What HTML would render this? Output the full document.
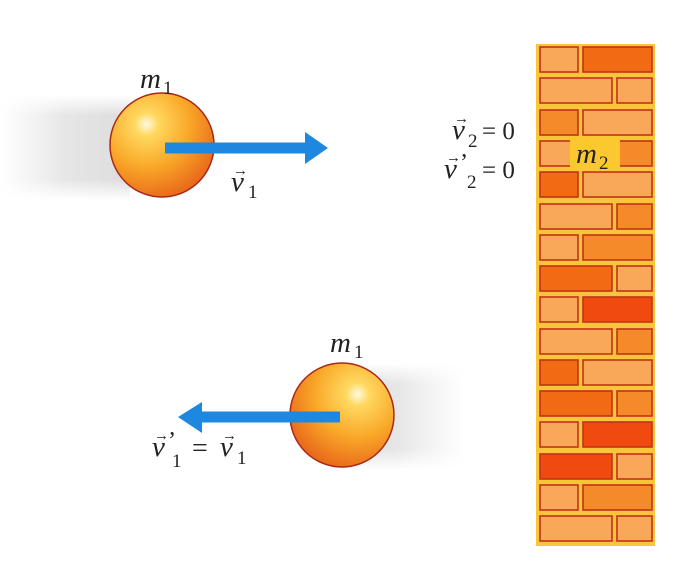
<!DOCTYPE html>
<html><head><meta charset="utf-8"><style>
html,body{margin:0;padding:0;background:#fff;}
svg{display:block}
text{font-family:"Liberation Serif",serif;fill:#222;}
</style></head><body>
<svg width="687" height="566" viewBox="0 0 687 566" xmlns="http://www.w3.org/2000/svg">
<defs>
<linearGradient id="tr1" x1="0" x2="1" y1="0" y2="0">
<stop offset="0" stop-color="#e4e4e4" stop-opacity="0"/>
<stop offset="0.5" stop-color="#e0e0e0" stop-opacity="0.8"/>
<stop offset="1" stop-color="#dcdcdc" stop-opacity="1"/>
</linearGradient>
<linearGradient id="tr2" x1="1" x2="0" y1="0" y2="0">
<stop offset="0" stop-color="#e4e4e4" stop-opacity="0"/>
<stop offset="0.5" stop-color="#e0e0e0" stop-opacity="0.8"/>
<stop offset="1" stop-color="#dcdcdc" stop-opacity="1"/>
</linearGradient>
<linearGradient id="vf" x1="0" x2="0" y1="0" y2="1">
<stop offset="0" stop-color="#fff" stop-opacity="1"/>
<stop offset="0.2" stop-color="#fff" stop-opacity="0"/>
<stop offset="0.8" stop-color="#fff" stop-opacity="0"/>
<stop offset="1" stop-color="#fff" stop-opacity="1"/>
</linearGradient>
<radialGradient id="ball" cx="0.35" cy="0.3" r="0.75">
<stop offset="0" stop-color="#fffbe0"/>
<stop offset="0.15" stop-color="#ffd860"/>
<stop offset="0.55" stop-color="#f9a828"/>
<stop offset="1" stop-color="#e8661a"/>
</radialGradient>
<radialGradient id="ball2" cx="0.65" cy="0.3" r="0.75">
<stop offset="0" stop-color="#fffbe0"/>
<stop offset="0.15" stop-color="#ffd860"/>
<stop offset="0.55" stop-color="#f9a828"/>
<stop offset="1" stop-color="#e8661a"/>
</radialGradient>
</defs>

<rect x="0" y="95" width="130" height="105" fill="url(#tr1)"/>
<rect x="0" y="95" width="130" height="105" fill="url(#vf)"/>
<rect x="330" y="363" width="135" height="107" fill="url(#tr2)"/>
<rect x="330" y="363" width="135" height="107" fill="url(#vf)"/>

<circle cx="162" cy="145" r="52" fill="url(#ball)" stroke="#a8281a" stroke-width="1.5"/>
<rect x="165" y="142.5" width="142" height="11" fill="#1e88e0"/>
<polygon points="305,132 328,148 305,164" fill="#1e88e0"/>
<text x="140" y="88" font-size="29" font-style="italic">m</text>
<text x="163" y="94" font-size="19">1</text>
<text x="231" y="191" font-size="29" font-style="italic">v</text>
<text x="233" y="175" font-size="15">→</text>
<text x="248" y="198" font-size="19">1</text>

<circle cx="342" cy="415" r="52" fill="url(#ball2)" stroke="#a8281a" stroke-width="1.5"/>
<rect x="200" y="411.5" width="140" height="11" fill="#1e88e0"/>
<polygon points="202,402 178,417 202,433" fill="#1e88e0"/>
<text x="330" y="352" font-size="29" font-style="italic">m</text>
<text x="354" y="358" font-size="19">1</text>
<text x="152" y="456" font-size="29" font-style="italic">v</text>
<text x="154" y="440" font-size="15">→</text>
<text x="168" y="448" font-size="24">’</text>
<text x="172" y="467" font-size="19">1</text>
<text x="192" y="457" font-size="28">=</text>
<text x="220" y="456" font-size="29" font-style="italic">v</text>
<text x="222" y="440" font-size="15">→</text>
<text x="237" y="464" font-size="19">1</text>

<text x="452" y="139" font-size="29" font-style="italic">v</text>
<text x="454" y="123" font-size="15">→</text>
<text x="468" y="147" font-size="19">2</text>
<text x="482" y="139" font-size="25">= 0</text>
<text x="444" y="178" font-size="29" font-style="italic">v</text>
<text x="446" y="162" font-size="15">→</text>
<text x="460" y="170" font-size="24">’</text>
<text x="467" y="188" font-size="19">2</text>
<text x="482" y="178" font-size="25">= 0</text>

<rect x="536" y="44" width="119" height="502" fill="#f9c53a"/>
<g stroke="#c03418" stroke-width="1.6">
<rect x="540" y="47" width="38" height="25" fill="#f9a85a"/><rect x="583" y="47" width="69" height="25" fill="#f26a14"/>
<rect x="540" y="78" width="72" height="25" fill="#f9a85a"/><rect x="617" y="78" width="35" height="25" fill="#f9a85a"/>
<rect x="540" y="110" width="38" height="25" fill="#f58a2a"/><rect x="583" y="110" width="69" height="25" fill="#f9a85a"/>
<rect x="540" y="141" width="38" height="25" fill="#f9a85a"/><rect x="583" y="141" width="69" height="25" fill="#f58a2a"/>
<rect x="540" y="172" width="38" height="25" fill="#f26a14"/><rect x="583" y="172" width="69" height="25" fill="#f9a85a"/>
<rect x="540" y="204" width="72" height="25" fill="#f9a85a"/><rect x="617" y="204" width="35" height="25" fill="#f58a2a"/>
<rect x="540" y="235" width="38" height="25" fill="#f9a85a"/><rect x="583" y="235" width="69" height="25" fill="#f58a2a"/>
<rect x="540" y="266" width="72" height="25" fill="#f26a14"/><rect x="617" y="266" width="35" height="25" fill="#f9a85a"/>
<rect x="540" y="297" width="38" height="25" fill="#f9a85a"/><rect x="583" y="297" width="69" height="25" fill="#f04a10"/>
<rect x="540" y="329" width="72" height="25" fill="#f9a85a"/><rect x="617" y="329" width="35" height="25" fill="#f58a2a"/>
<rect x="540" y="360" width="38" height="25" fill="#f26a14"/><rect x="583" y="360" width="69" height="25" fill="#f9a85a"/>
<rect x="540" y="391" width="72" height="25" fill="#f26a14"/><rect x="617" y="391" width="35" height="25" fill="#f58a2a"/>
<rect x="540" y="422" width="38" height="25" fill="#f9a85a"/><rect x="583" y="422" width="69" height="25" fill="#f04a10"/>
<rect x="540" y="454" width="72" height="25" fill="#f04a10"/><rect x="617" y="454" width="35" height="25" fill="#f9a85a"/>
<rect x="540" y="485" width="38" height="25" fill="#f9a85a"/><rect x="583" y="485" width="69" height="25" fill="#f58a2a"/>
<rect x="540" y="516" width="72" height="25" fill="#f9a85a"/><rect x="617" y="516" width="35" height="25" fill="#f9a85a"/>
</g>
<rect x="570" y="137" width="50" height="33" fill="#fbc830"/>
<text x="576" y="163" font-size="29" font-style="italic">m</text>
<text x="599" y="169" font-size="19">2</text>
</svg>
</body></html>
